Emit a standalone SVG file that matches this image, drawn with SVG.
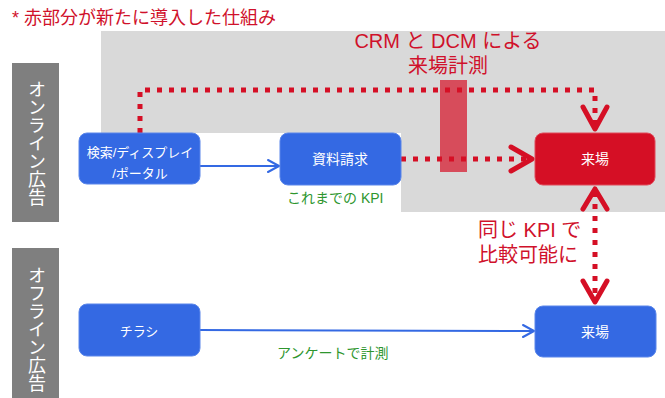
<svg xmlns="http://www.w3.org/2000/svg" width="665" height="398" viewBox="0 0 665 398">
<style>
text{font-family:"Liberation Sans","Noto Sans CJK JP",sans-serif}
.nb{fill:#3469E3;stroke:#5a86ea;stroke-width:1}
.nr{fill:#D50F25;stroke:#e04a5a;stroke-width:1}
.nt{fill:#fff;text-anchor:middle}
.lab{fill:#7F7F7F}
.labt{fill:#fff;font-size:18px;writing-mode:vertical-rl;text-anchor:middle}
.red{fill:#D0112B}
.grn{fill:#2E962E;font-size:14px}
.dot{fill:none;stroke:#D50F25;stroke-width:5;stroke-dasharray:5 7}
.chev{fill:none;stroke:#D50F25;stroke-width:5;stroke-linecap:round;stroke-linejoin:round}
.bl{fill:none;stroke:#3469E3;stroke-width:2}
.blh{fill:none;stroke:#3469E3;stroke-width:2;stroke-linecap:round;stroke-linejoin:round}
</style>
<rect width="665" height="398" fill="#fff"/>
<polygon points="101,31 665,31 665,212 401,212 401,133 101,133" fill="#D9D9D9"/>
<text class="red" x="12" y="24" font-size="18">* 赤部分が新たに導入した仕組み</text>
<g id="label-online"><rect class="lab" x="12" y="63" width="47" height="159"/><text class="labt" x="35" y="143">オンライン広告</text></g>
<g id="label-offline"><rect class="lab" x="12" y="248" width="47" height="150"/><text class="labt" x="35" y="329">オフライン広告</text></g>
<g id="connectors">
<path class="dot" d="M140,133 V90 H595 V126"/>
<polyline class="chev" points="583,107 595,129 607,107"/>
<path class="dot" d="M401,159 H530"/>
<polyline class="chev" points="511,147 532,159 511,171"/>
<path class="dot" d="M595,192 V298"/>
<polyline class="chev" points="583,209 595,189 607,209"/>
<polyline class="chev" points="583,281 595,302 607,281"/>
<path class="bl" d="M200,166 H278"/>
<polyline class="blh" points="268,160 279,166 268,172"/>
<path class="bl" d="M200,330 L533,331"/>
<polyline class="blh" points="523,325 534,331 523,337"/>
</g>
<rect x="440" y="80" width="27" height="92" fill="#D50F25" opacity="0.7"/>
<g id="n-search"><rect class="nb" x="79" y="133" width="121" height="51" rx="8"/><text class="nt" font-size="13" x="140" y="157">検索/ディスプレイ</text><text class="nt" font-size="13" x="140" y="178">/ポータル</text></g>
<g id="n-request"><rect class="nb" x="280" y="133" width="121" height="52" rx="8"/><text class="nt" font-size="14" x="340" y="164">資料請求</text></g>
<g id="n-visit-online"><rect class="nr" x="535" y="133" width="120" height="52" rx="8"/><text class="nt" font-size="14" x="595" y="164">来場</text></g>
<g id="n-flyer"><rect class="nb" x="79" y="304" width="121" height="52" rx="8"/><text class="nt" font-size="13" x="139" y="336">チラシ</text></g>
<g id="n-visit-offline"><rect class="nb" x="535" y="306" width="121" height="51" rx="8"/><text class="nt" font-size="14" x="595" y="337">来場</text></g>
<text class="grn" x="287" y="203">これまでの KPI</text>
<text class="grn" x="277" y="358">アンケートで計測</text>
<text class="red" font-size="20" x="448" y="48" text-anchor="middle">CRM と DCM による</text>
<text class="red" font-size="20" x="448" y="73" text-anchor="middle">来場計測</text>
<text class="red" font-size="20" x="478" y="237">同じ KPI で</text>
<text class="red" font-size="20" x="478" y="262">比較可能に</text>
</svg>
